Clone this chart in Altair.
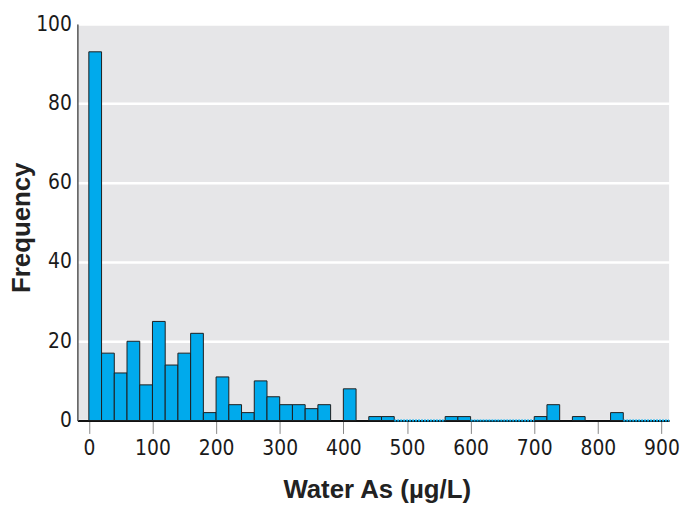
import altair as alt
import pandas as pd

bin_start = list(range(0, 900, 20))
counts = [93, 17, 12, 20, 9, 25, 14, 17, 22, 2,
          11, 4, 2, 10, 6, 4, 4, 3, 4, 0,
          8, 0, 1, 1, 0, 0, 0, 0, 1, 1,
          0, 0, 0, 0, 0, 1, 4, 0, 1, 0,
          0, 2, 0, 0, 0]
x_ticks = [0, 100, 200, 300, 400, 500, 600, 700, 800, 900]
y_ticks = [0, 20, 40, 60, 80, 100]
empty_from = [480, 600, 840]
empty_to = [560, 700, 912]

df = pd.DataFrame({"start": bin_start, "count": counts})
df["end"] = df["start"] + 20
df = df[df["count"] > 0]
empty_df = pd.DataFrame({"a": empty_from, "b": empty_to, "z": [0] * len(empty_from)})

tick_font = "DejaVu Sans Condensed, sans-serif"
title_font = "Liberation Sans, Arial, sans-serif"

xscale = alt.Scale(domain=[-18, 912], nice=False, zero=False)
yscale = alt.Scale(domain=[0, 100], nice=False)

bars = alt.Chart(df).mark_rect(color="#00aaec", stroke="#1e1e1e", strokeWidth=1).encode(
    x=alt.X("start:Q", scale=xscale,
            axis=alt.Axis(values=x_ticks, title="Water As (\u00b5g/L)", grid=False,
                          domain=True, domainColor="#111111", domainWidth=2,
                          ticks=True, tickSize=13, tickColor="#888888", tickWidth=1,
                          labelFont=tick_font, labelFontSize=21, labelColor="#1a1a1a",
                          labelPadding=4, labelFlush=False,
                          titleFont=title_font, titleFontSize=26, titleFontWeight="bold",
                          titleColor="#222222", titleX=302, titleY=78,
                          titleBaseline="alphabetic", titleAnchor="middle")),
    x2="end:Q",
    y=alt.Y("count:Q", scale=yscale,
            axis=alt.Axis(values=y_ticks, title="Frequency", grid=True,
                          gridColor="#ffffff", gridWidth=2.5,
                          domain=True, domainColor="#555555", domainWidth=1.5,
                          ticks=False, labelPadding=6,
                          labelFont=tick_font, labelFontSize=21, labelColor="#1a1a1a",
                          titleFont=title_font, titleFontSize=26, titleFontWeight="bold",
                          titleColor="#222222", titleX=-48, titleY=205, titleAngle=-90,
                          titleBaseline="alphabetic", titleAnchor="middle")),
    y2=alt.datum(0),
)

dotted = alt.Chart(empty_df).mark_rule(color="#00aaec", strokeWidth=2, strokeDash=[2, 1]).encode(
    x=alt.X("a:Q", scale=xscale),
    x2="b:Q",
    y=alt.Y("z:Q", scale=yscale),
)

chart = alt.layer(bars, dotted).properties(
    width=597, height=400,
    autosize=alt.AutoSizeParams(type="none"),
    padding={"left": 70, "top": 14, "right": 13, "bottom": 84},
).configure_view(fill="#e6e6e8", stroke=None)

chart.save("out.html", embed_options={"renderer": "svg", "actions": False})
